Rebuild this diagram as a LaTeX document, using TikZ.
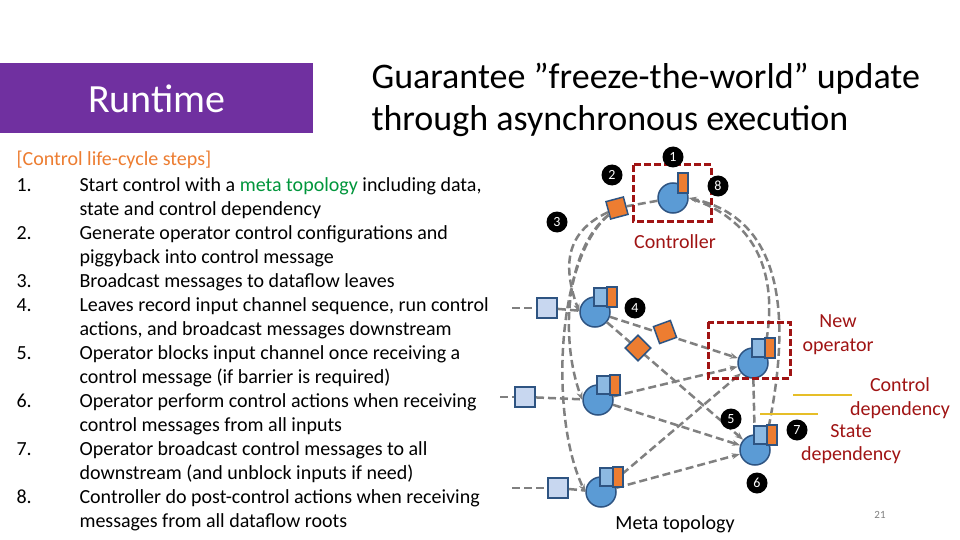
\documentclass[tikz,border=0pt]{standalone}
\usepackage{fontspec}
\setmainfont{Carlito}
\usetikzlibrary{arrows.meta,calc}
\definecolor{purp}{RGB}{112,48,160}
\definecolor{dred}{RGB}{160,20,20}
\definecolor{oran}{RGB}{237,125,49}
\definecolor{cblue}{RGB}{91,155,213}
\definecolor{eblue}{RGB}{46,84,130}
\definecolor{gtxt}{RGB}{0,150,60}
\definecolor{ltb}{RGB}{200,215,240}
\definecolor{ygold}{RGB}{230,190,40}
\begin{document}
\begin{tikzpicture}[x=1pt,y=-1pt,
  circ/.style={circle,fill=cblue,draw=eblue,line width=1.5pt,minimum size=30pt,inner sep=0},
  orng/.style={fill=oran,draw=eblue,line width=1.5pt,minimum width=10pt,minimum height=20pt,inner sep=0},
  osq/.style={fill=oran,draw=eblue,line width=1.5pt,minimum size=18pt,inner sep=0},
  insq/.style={fill=ltb,draw=eblue,line width=2pt,minimum size=20pt,inner sep=0},
  chip/.style={fill=cblue!70,draw=eblue,line width=1.2pt,minimum width=14pt,minimum height=18pt,inner sep=0},
  badge/.style={circle,fill=black,text=white,minimum size=21pt,inner sep=0,font=\fontsize{14}{14}\selectfont},
  dl/.style={draw=gray,dashed,dash pattern=on 8pt off 4pt,line width=2.5pt},
  arr/.style={dl,-{Stealth[length=8pt]}},
  rbox/.style={draw=dred,line width=3pt,dash pattern=on 7pt off 3pt},
  lt/.style={font=\fontsize{20}{24}\selectfont,anchor=base west},
  rt/.style={font=\fontsize{20}{24}\selectfont,text=dred,anchor=base}]
\useasboundingbox (0,0) rectangle (960,540);
\fill[white] (0,0) rectangle (960,540);
% title
\fill[purp] (0,63) rectangle (313,133);
\node[text=white,font=\fontsize{40}{40}\selectfont] (rt) at (157,99) {Runtime};
\node[anchor=base west,font=\fontsize{36}{36}\selectfont] (t1) at (368,89) {Guarantee ”freeze-the-world” update};
\node[anchor=base west,font=\fontsize{36}{36}\selectfont] (t2) at (368,131) {through asynchronous execution};
\node[lt,text=oran] (hd) at (13,165) {[Control life-cycle steps]};
\foreach \n/\y in {1/191,2/239,3/287,4/311,5/359,6/407,7/455,8/503}
  \node[lt] (n\n) at (13,\y) {\n.};
\node[lt] (l1) at (76,191) {Start control with a \textcolor{gtxt}{meta topology} including data,};
\node[lt] (l1b) at (76,215) {state and control dependency};
\node[lt] (l2) at (76,239) {Generate operator control configurations and};
\node[lt] (l2b) at (76,263) {piggyback into control message};
\node[lt] (l3) at (76,287) {Broadcast messages to dataflow leaves};
\node[lt] (l4) at (76,311) {Leaves record input channel sequence, run control};
\node[lt] (l4b) at (76,335) {actions, and broadcast messages downstream};
\node[lt] (l5) at (76,359) {Operator blocks input channel once receiving a};
\node[lt] (l5b) at (76,383) {control message (if barrier is required)};
\node[lt] (l6) at (76,407) {Operator perform control actions when receiving};
\node[lt] (l6b) at (76,431) {control messages from all inputs};
\node[lt] (l7) at (76,455) {Operator broadcast control messages to all};
\node[lt] (l7b) at (76,479) {downstream (and unblock inputs if need)};
\node[lt] (l8) at (76,503) {Controller do post-control actions when receiving};
\node[lt] (l8b) at (76,527) {messages from all dataflow roots};
% diagram coordinates
\coordinate (lA) at (512,308);
\coordinate (lB) at (500,397);
\coordinate (lC) at (512,488);
\node[insq] (iA) at (547,308) {};
\node[insq] (iB) at (525,397) {};
\node[insq] (iC) at (558,488) {};
\node[circ] (A) at (595,312) {};
\node[circ] (B) at (598,400) {};
\node[circ] (C) at (601,492) {};
\node[circ] (N) at (753,363) {};
\node[circ] (D) at (755,450) {};
\node[circ] (K) at (673,198) {};
% edges
\draw[dl] (lA) -- (iA); \draw[dl] (lB) -- (iB); \draw[dl] (lC) -- (iC);
\draw[dl] (iA) -- (A); \draw[dl] (iB) -- (B); \draw[dl] (iC) -- (C);
\draw[arr] (A) -- (D);
\draw[arr] (A) -- (N);
\draw[arr] (B) -- (N);
\draw[arr] (B) -- (D);
\draw[arr] (C) -- (N);
\draw[arr] (C) -- (D);
\draw[dl] (N) -- (D);
\node[osq,rotate=15] (o2) at (617,208) {};
\draw[dl] (K) -- (o2);
\draw[arr] (o2) .. controls (570,230) and (560,260) .. (A.west);
\draw[arr] (o2) .. controls (565,250) and (560,340) .. (B.west);
\draw[arr] (o2) .. controls (555,260) and (550,420) .. (C.west);
\draw[arr] (D.north east) .. controls (790,330) and (790,220) .. (K.east);
\draw[dl] (N.north east) .. controls (780,280) and (760,220) .. (K.east);
% icons
\foreach \c in {A,B,C,N,D} {
  \node[chip] at ($(\c)+(6,-15)$) {};
  \node[orng] at ($(\c)+(17,-15)$) {};
}
\node[orng] (ko) at (683,183) {};
\node[osq,rotate=20] (d1) at (665,332) {};
\node[osq,rotate=45] (d2) at (638,348) {};
% red boxes
\draw[rbox] (633,165) rectangle (711,221);
\draw[rbox] (708,322) rectangle (790,378);
% badges
\node[badge] (b1) at (673,157) {1};
\node[badge] (b2) at (612,175) {2};
\node[badge] (b8) at (718,186) {8};
\node[badge] (b3) at (557,222) {3};
\node[badge] (b4) at (635,308) {4};
\node[badge] (b5) at (731,419) {5};
\node[badge] (b6) at (757,483) {6};
\node[badge] (b7) at (797,430) {7};
% yellow legend lines
\draw[ygold,line width=1.5pt] (793,395) -- (852,395);
\draw[ygold,line width=1.5pt] (760,414) -- (818,414);
% labels
\node[rt] (cl) at (675,248) {Controller};
\node[rt] (no1) at (838,327) {New};
\node[rt] (no2) at (838,351) {operator};
\node[rt] (cd1) at (900,391) {Control};
\node[rt] (cd2) at (900,415) {dependency};
\node[rt] (sd1) at (851,437) {State};
\node[rt] (sd2) at (851,460) {dependency};
\node[font=\fontsize{20}{24}\selectfont,anchor=base] (mt) at (675,529) {Meta topology};
\node[font=\fontsize{11}{11}\selectfont,text=gray] (pg) at (880,515) {21};
\end{tikzpicture}
\end{document}
